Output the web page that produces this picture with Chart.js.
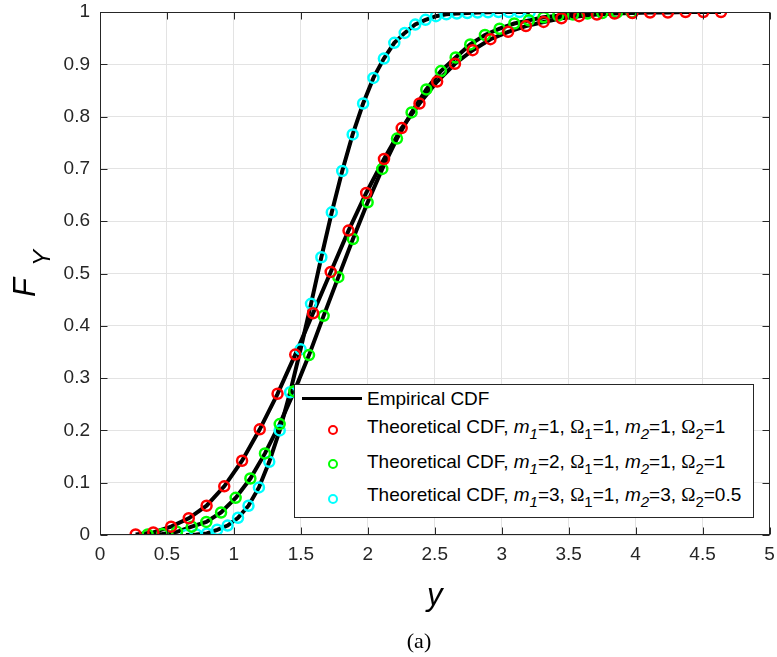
<!DOCTYPE html>
<html lang="en">
<head>
<meta charset="UTF-8">
<title>Empirical and theoretical CDF</title>
<script src="https://cdn.jsdelivr.net/npm/chart.js"></script>
<style>
  html, body { margin: 0; padding: 0; background: #fff; }
  #wrap { position: relative; width: 777px; height: 657px; }
  #legend {
    position: absolute; left: 294px; top: 384px; width: 460px; height: 134px;
    box-sizing: border-box; border: 1px solid #262626; background: #fff;
    font-family: "Liberation Sans", Arial, sans-serif; font-size: 19px; color: #000;
  }
  #legend .txt { position: absolute; left: 72px; white-space: nowrap; line-height: 20px; }
  #legend .line { position: absolute; left: 7px; top: 12px; width: 60px; height: 3px; background: #000; }
  #legend .mk { position: absolute; left: 33px; width: 10px; height: 10px; box-sizing: border-box; border: 2.5px solid; border-radius: 50%; }
  #legend sub { font-size: 15px; vertical-align: -6px; line-height: 0; }
  #legend .om { font-family: "Liberation Serif", serif; }
</style>
</head>
<body>
<div id="wrap">
  <canvas id="cdfChart" width="777" height="657"></canvas>
  <div id="legend">
    <div class="line"></div>
    <div class="txt" style="top:4px">Empirical CDF</div>
    <div class="mk" style="top:40px;border-color:#ff0000"></div>
    <div class="txt" style="top:32px">Theoretical CDF, <i>m</i><sub><i>1</i></sub>=1, <span class="om">&Omega;</span><sub>1</sub>=1, <i>m</i><sub><i>2</i></sub>=1, <span class="om">&Omega;</span><sub>2</sub>=1</div>
    <div class="mk" style="top:74px;border-color:#00ff00"></div>
    <div class="txt" style="top:67px">Theoretical CDF, <i>m</i><sub><i>1</i></sub>=2, <span class="om">&Omega;</span><sub>1</sub>=1, <i>m</i><sub><i>2</i></sub>=1, <span class="om">&Omega;</span><sub>2</sub>=1</div>
    <div class="mk" style="top:109px;border-color:#00ffff"></div>
    <div class="txt" style="top:100px">Theoretical CDF, <i>m</i><sub><i>1</i></sub>=3, <span class="om">&Omega;</span><sub>1</sub>=1, <i>m</i><sub><i>2</i></sub>=3, <span class="om">&Omega;</span><sub>2</sub>=0.5</div>
  </div>
</div>

<script>
// ticks
const xTicks = [0, 0.5, 1, 1.5, 2, 2.5, 3, 3.5, 4, 4.5, 5];
const yTicks = [0, 0.1, 0.2, 0.3, 0.4, 0.5, 0.6, 0.7, 0.8, 0.9, 1];

// m1=1, Ω1=1, m2=1, Ω2=1
const xRed = [0.266, 0.398, 0.531, 0.663, 0.796, 0.928, 1.061, 1.193, 1.326, 1.458, 1.591, 1.723,
  1.856, 1.988, 2.121, 2.253, 2.386, 2.518, 2.651, 2.783, 2.916, 3.048, 3.181, 3.313,
  3.446, 3.578, 3.711, 3.843, 3.976, 4.108, 4.241, 4.373, 4.506, 4.638];
const fRed = [0.001, 0.005, 0.016, 0.032, 0.056, 0.093, 0.142, 0.202, 0.270, 0.345, 0.424, 0.503,
  0.582, 0.654, 0.719, 0.778, 0.825, 0.867, 0.901, 0.927, 0.948, 0.962, 0.973, 0.981,
  0.988, 0.992, 0.995, 0.997, 0.998, 0.999, 0.999, 1.0, 1.0, 1.0];

// m1=2, Ω1=1, m2=1, Ω2=1
const xGreen = [0.356, 0.466, 0.575, 0.685, 0.794, 0.904, 1.013, 1.123, 1.232, 1.342, 1.451, 1.561,
  1.670, 1.780, 1.889, 1.999, 2.108, 2.218, 2.327, 2.437, 2.546, 2.656, 2.765, 2.875,
  2.984, 3.094, 3.203, 3.313, 3.422, 3.532, 3.641, 3.751, 3.860, 3.970];
const fGreen = [0.001, 0.002, 0.006, 0.016, 0.025, 0.043, 0.071, 0.108, 0.156, 0.212, 0.275, 0.344,
  0.419, 0.493, 0.566, 0.636, 0.700, 0.758, 0.808, 0.852, 0.887, 0.913, 0.938, 0.956,
  0.968, 0.978, 0.984, 0.990, 0.993, 0.995, 0.997, 0.998, 0.999, 0.999];

// m1=3, Ω1=1, m2=3, Ω2=0.5
const xCyan = [0.642, 0.720, 0.798, 0.875, 0.953, 1.031, 1.109, 1.187, 1.264, 1.342, 1.420, 1.498,
  1.576, 1.653, 1.731, 1.809, 1.887, 1.965, 2.042, 2.120, 2.198, 2.276, 2.354, 2.431,
  2.509, 2.587, 2.665, 2.743, 2.820, 2.898, 2.976, 3.054, 3.132, 3.210];
const fCyan = [0.000, 0.001, 0.003, 0.010, 0.018, 0.033, 0.056, 0.091, 0.140, 0.200, 0.273, 0.355,
  0.442, 0.531, 0.617, 0.696, 0.766, 0.825, 0.874, 0.911, 0.941, 0.960, 0.976, 0.985,
  0.992, 0.9955, 0.997, 0.998, 0.999, 0.9995, 1.0, 1.0, 1.0, 1.0];

const pts = (xs, ys) => xs.map((v, i) => ({ x: v, y: ys[i] }));

function empirical(xs, ys) {
  return { data: pts(xs, ys), showLine: true, borderColor: '#000', borderWidth: 4,
           pointRadius: 0, order: 2 };
}
function theoretical(xs, ys, color) {
  return { data: pts(xs, ys), showLine: false, borderColor: color, backgroundColor: 'rgba(0,0,0,0)',
           pointRadius: 5, pointBorderWidth: 2.5, order: 1 };
}

// box, inside ticks, axis titles and caption
const axesPlugin = {
  id: 'matlabAxes',
  afterDraw(chart) {
    const { ctx, chartArea: a, scales: { x, y } } = chart;
    const L = Math.round(a.left) + 0.5, R = Math.round(a.right) - 0.5;
    const T = Math.round(a.top) + 0.5, B = Math.round(a.bottom) - 0.5;
    ctx.save();
    ctx.strokeStyle = '#262626';
    ctx.lineWidth = 1;
    ctx.strokeRect(L, T, R - L, B - T);
    ctx.beginPath();
    xTicks.forEach(v => {
      const px = Math.round(x.getPixelForValue(v)) + 0.5;
      ctx.moveTo(px, B); ctx.lineTo(px, B - 7);
      ctx.moveTo(px, T); ctx.lineTo(px, T + 7);
    });
    yTicks.forEach(v => {
      const py = Math.round(y.getPixelForValue(v)) + 0.5;
      ctx.moveTo(L, py); ctx.lineTo(L + 7, py);
      ctx.moveTo(R, py); ctx.lineTo(R - 7, py);
    });
    ctx.stroke();

    // y label F_Y
    ctx.fillStyle = '#000';
    ctx.textBaseline = 'alphabetic';
    ctx.textAlign = 'left';
    ctx.save();
    ctx.translate(35, 297);
    ctx.rotate(-Math.PI / 2);
    ctx.font = 'italic 31px "Liberation Sans", Arial, sans-serif';
    ctx.fillText('F', 0, 0);
    ctx.font = 'italic 24px "Liberation Sans", Arial, sans-serif';
    ctx.fillText('Y', 31, 15);
    ctx.restore();

    // x label
    ctx.textAlign = 'center';
    ctx.font = 'italic 31px "Liberation Sans", Arial, sans-serif';
    ctx.fillText('y', (a.left + a.right) / 2, 605);

    // caption
    ctx.font = '22px "Liberation Serif", serif';
    ctx.fillText('(a)', 419, 648);
    ctx.restore();
  }
};

const tickFont = { family: '"Liberation Sans", Arial, sans-serif', size: 19 };
const fmt = v => String(Math.round(v * 10) / 10);

new Chart(document.getElementById('cdfChart'), {
  type: 'scatter',
  data: {
    datasets: [
      empirical(xRed, fRed),
      empirical(xGreen, fGreen),
      empirical(xCyan, fCyan),
      theoretical(xRed, fRed, '#ff0000'),
      theoretical(xGreen, fGreen, '#00ff00'),
      theoretical(xCyan, fCyan, '#00ffff')
    ]
  },
  options: {
    responsive: false,
    animation: false,
    layout: { padding: { top: 12, right: 7, left: 0, bottom: 0 } },
    plugins: { legend: { display: false }, tooltip: { enabled: false } },
    scales: {
      x: {
        type: 'linear', min: 0, max: 5,
        afterBuildTicks: s => { s.ticks = xTicks.map(v => ({ value: v })); },
        afterFit: s => { s.height = 122; s.paddingLeft = 0; s.paddingRight = 0; },
        grid: { color: '#e3e3e3', drawTicks: false },
        border: { display: false },
        ticks: { font: tickFont, color: '#262626', padding: 8, maxRotation: 0, callback: fmt }
      },
      y: {
        type: 'linear', min: 0, max: 1,
        afterBuildTicks: s => { s.ticks = yTicks.map(v => ({ value: v })); },
        afterFit: s => { s.width = 100; s.paddingTop = 0; s.paddingBottom = 0; },
        grid: { color: '#e3e3e3', drawTicks: false },
        border: { display: false },
        ticks: { font: tickFont, color: '#262626', padding: 10, callback: fmt }
      }
    }
  },
  plugins: [axesPlugin]
});
</script>
</body>
</html>
